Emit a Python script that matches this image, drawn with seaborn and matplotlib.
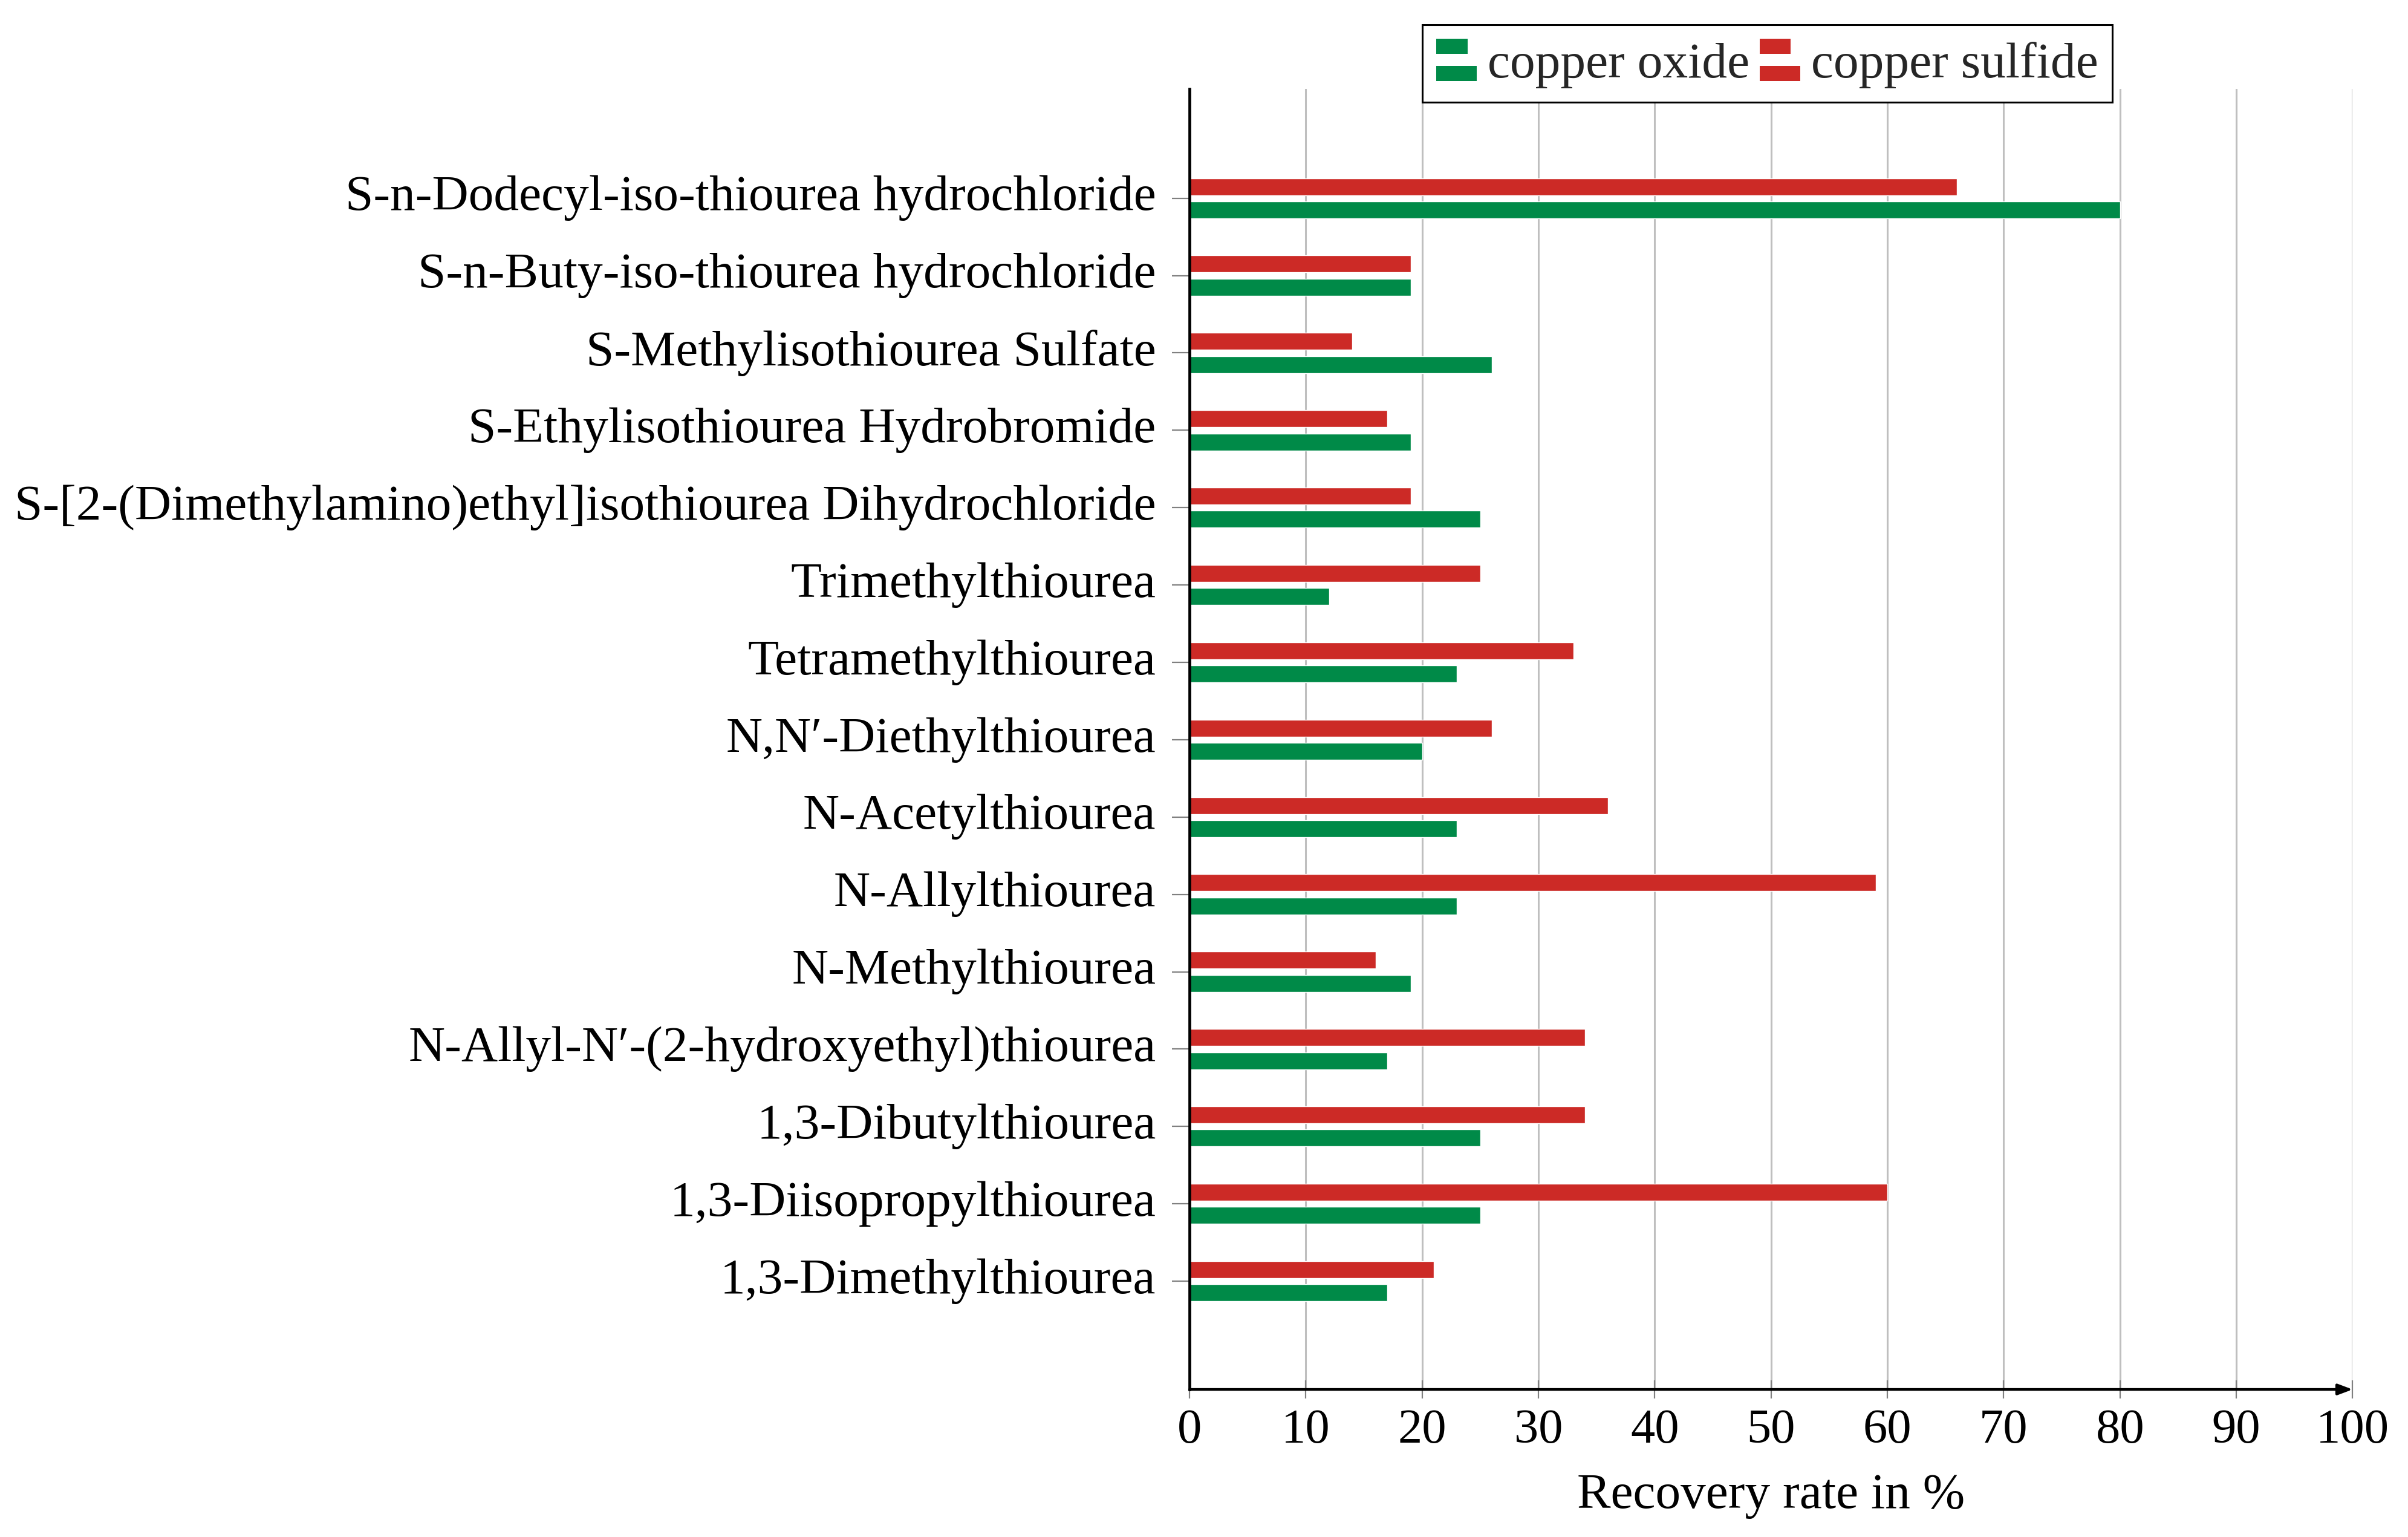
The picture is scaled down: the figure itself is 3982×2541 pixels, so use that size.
import numpy as np
import pandas as pd
import seaborn as sns
from matplotlib import pyplot as plt
from matplotlib.patches import Rectangle
from matplotlib.legend_handler import HandlerBase


compounds = [
    'S-n-Dodecyl-iso-thiourea hydrochloride',
    'S-n-Buty-iso-thiourea hydrochloride',
    'S-Methylisothiourea Sulfate',
    'S-Ethylisothiourea Hydrobromide',
    'S-[2-(Dimethylamino)ethyl]isothiourea Dihydrochloride',
    'Trimethylthiourea',
    'Tetramethylthiourea',
    'N,N\u2032-Diethylthiourea',
    'N-Acetylthiourea',
    'N-Allylthiourea',
    'N-Methylthiourea',
    'N-Allyl-N\u2032-(2-hydroxyethyl)thiourea',
    '1,3-Dibutylthiourea',
    '1,3-Diisopropylthiourea',
    '1,3-Dimethylthiourea',
]
copper_oxide = [80, 19, 26, 19, 25, 12, 23, 20, 23, 23, 19, 17, 25, 25, 17]
copper_sulfide = [66, 19, 14, 17, 19, 25, 33, 26, 36, 59, 16, 34, 34, 60, 21]

series_names = ['copper oxide', 'copper sulfide']
colors = {'copper oxide': '#008a48', 'copper sulfide': '#cc2a26'}
x_ticks = list(range(0, 101, 10))


class TwoBarHandler(HandlerBase):
    # pgfplots-style bar legend: a short bar above a longer one
    def create_artists(self, legend, orig_handle, xdescent, ydescent,
                       width, height, fontsize, trans):
        c = orig_handle.get_facecolor()
        h = 0.36 * height
        top = Rectangle((-xdescent, -ydescent + height - h), 0.77 * width, h,
                        facecolor=c, edgecolor='none', transform=trans)
        bot = Rectangle((-xdescent, -ydescent), width, h,
                        facecolor=c, edgecolor='none', transform=trans)
        return [top, bot]


sns.set_theme(style='white')
plt.rcParams['font.family'] = ['Liberation Serif', 'DejaVu Serif']

df = pd.DataFrame({
    'compound': compounds * 2,
    'material': ['copper oxide'] * len(compounds) + ['copper sulfide'] * len(compounds),
    'rate': copper_oxide + copper_sulfide,
})

fig = plt.figure(figsize=(39.82, 25.41), dpi=100)
ax = fig.add_axes([0.494, 0.096, 0.483, 0.846])

sns.barplot(data=df, y='compound', x='rate', hue='material',
            order=compounds, hue_order=['copper sulfide', 'copper oxide'],
            palette=colors, saturation=1, width=0.6, gap=0.27,
            orient='h', legend=False, ax=ax)

ax.set_xlim(0, 100)
ax.set_ylim(15.4, -1.41)
ax.set_xticks(x_ticks)
ax.set_ylabel('')
ax.set_xlabel('Recovery rate in %', fontsize=60, labelpad=24, color='black')

ax.grid(axis='x', color='#bfbfbf', lw=2.2)
ax.grid(axis='y', visible=False)
ax.set_axisbelow(True)

for s in ['top', 'right', 'bottom']:
    ax.spines[s].set_visible(False)
ax.spines['left'].set_color('black')
ax.spines['left'].set_linewidth(3.4)
ax.annotate('', xy=(1, 0), xytext=(0, 0), xycoords='axes fraction',
            arrowprops=dict(arrowstyle='-|>,head_length=1.2,head_width=0.45',
                            lw=3.2, color='black', shrinkA=0, shrinkB=0))

ax.tick_params(axis='x', direction='inout', length=22, width=1.6,
               color='#808080', labelsize=58, pad=12, labelcolor='black', bottom=True)
ax.tick_params(axis='y', direction='out', length=21, width=1.6,
               color='#808080', labelsize=60, pad=19, labelcolor='black', left=True)
for t in ax.get_yticklabels():
    t.set_va('center')

handles = [Rectangle((0, 0), 1, 1, facecolor=colors[n]) for n in series_names]
leg = fig.legend(handles, series_names, loc='upper left',
                 bbox_to_anchor=(2352 / 3982, 1 - 41 / 2541),
                 ncol=2, fontsize=60, frameon=True, fancybox=False,
                 edgecolor='black', framealpha=1, borderpad=0.28,
                 handlelength=0.8, handleheight=0.9, handletextpad=0.22,
                 columnspacing=0.2, borderaxespad=0,
                 handler_map={Rectangle: TwoBarHandler()})
leg.get_frame().set_linewidth(2.2)

fig.savefig('out.png', dpi=100)
